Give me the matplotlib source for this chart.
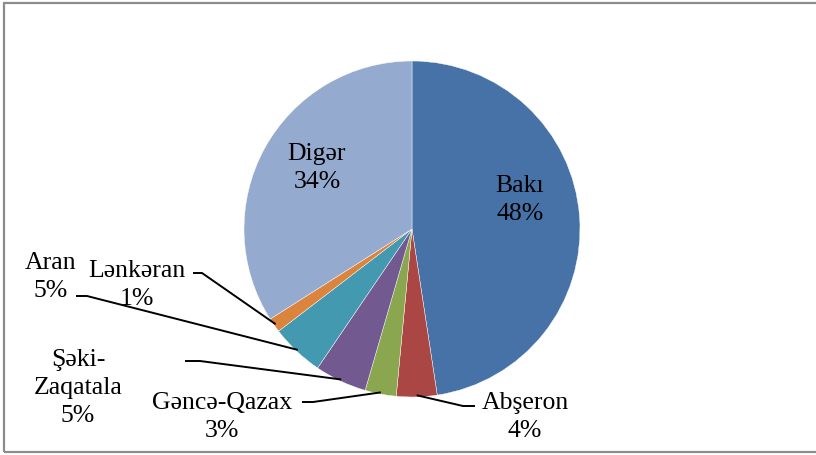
import numpy as np
import matplotlib
matplotlib.use("Agg")
import matplotlib.pyplot as plt
from matplotlib.patches import Rectangle

regions = ["Bakı", "Abşeron", "Gəncə-Qazax", "Şəki-\nZaqatala", "Aran", "Lənkəran", "Digər"]
shares = [47.6, 3.9, 3.0, 5.0, 5.1, 1.4, 34.0]
pct_labels = ["48%", "4%", "3%", "5%", "5%", "1%", "34%"]
colors = ["#4672A8", "#AA4744", "#8AA64F", "#725A90", "#4299B0", "#DB843E", "#94AACF"]

plt.rcParams["font.family"] = ["Liberation Serif", "DejaVu Serif"]

fig = plt.figure(figsize=(8.16, 4.56), dpi=100)
W, H = 816, 456
cx, cy, R = 412, 230, 168

ax = fig.add_axes([(cx - R) / W, (H - cy - R) / H, 2 * R / W, 2 * R / H])
wedges, _ = ax.pie(shares, colors=colors, startangle=90, counterclock=False,
                   wedgeprops=dict(linewidth=0.3, edgecolor="white"))
for w in wedges:
    w.set_clip_on(False)
ax.set_xlim(-1, 1)
ax.set_ylim(-1, 1)
ax.set_aspect("equal")
ax.axis("off")


def px(x, y):
    return (x - cx) / R, (cy - y) / R


# label placement (pixels): text centre, elbow of leader, end of leader
layout = [
    ((520, 200), None, None),
    ((525, 417), (463, 407), (475, 407)),
    ((222, 417), (313, 403), (302, 403)),
    ((78, 388), (200, 362), (185, 362)),
    ((51, 277), (87, 297), (76, 297)),
    ((137, 285), (202, 274), (193, 274)),
    ((317, 168), None, None),
]

for w, name, pct, (tpos, elbow, end) in zip(wedges, regions, pct_labels, layout):
    tx, ty = px(*tpos)
    ax.text(tx, ty, name + "\n" + pct, ha="center", va="center",
            fontsize=18.5, linespacing=1.38, clip_on=False)
    if elbow is not None:
        mid = np.deg2rad((w.theta1 + w.theta2) / 2)
        ax0, ay0 = np.cos(mid) * 0.99, np.sin(mid) * 0.99
        ex, ey = px(*elbow)
        fx, fy = px(*end)
        ax.plot([ax0, ex, fx], [ay0, ey, fy], color="black", lw=1.4,
                clip_on=False, solid_capstyle="butt")

fig.patches.append(Rectangle((4 / W, 3.5 / H), 1.2, 449 / H, transform=fig.transFigure,
                             fill=False, edgecolor="#8c8c8c", linewidth=1.6))

fig.savefig("out.png", dpi=100)
